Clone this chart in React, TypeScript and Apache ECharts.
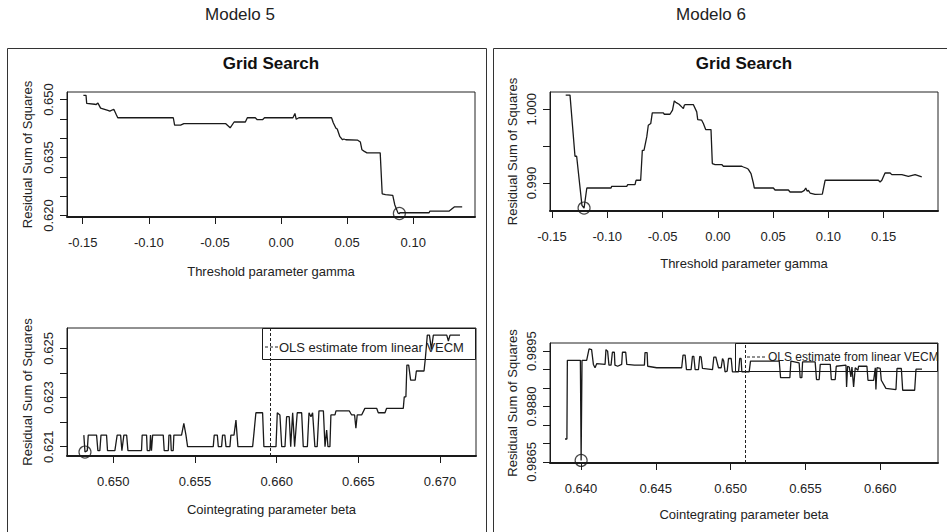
import React, { useEffect, useRef } from "react";
import * as echarts from "echarts";

const FONT = "'Liberation Sans', Arial, Helvetica, sans-serif";
const INK = "#1a1a1a";

// ---- texts ----
const panelTitles = ["Modelo 5", "Modelo 6"];
const plotTitle = "Grid Search";
const gammaAxisName = "Threshold parameter gamma";
const betaAxisName = "Cointegrating parameter beta";
const rssAxisName = "Residual Sum of Squares";
const legendText = "OLS estimate from linear VECM";

// ---- Modelo 5 : gamma grid search ----
const m5Gamma: [number, number][] = [
  [-0.1495, 0.6511], [-0.1475, 0.6511], [-0.1470, 0.6490], [-0.1410, 0.6488], [-0.1400, 0.6487],
  [-0.1385, 0.6491], [-0.1365, 0.6478], [-0.1310, 0.6472], [-0.1295, 0.6470], [-0.1265, 0.6475],
  [-0.1245, 0.6460], [-0.1235, 0.6453], [-0.0815, 0.6453], [-0.0805, 0.6434], [-0.0760, 0.6434],
  [-0.0735, 0.6438], [-0.0420, 0.6438], [-0.0385, 0.6427], [-0.0355, 0.6442], [-0.0270, 0.6442],
  [-0.0255, 0.6453], [-0.0195, 0.6453], [-0.0180, 0.6448], [-0.0140, 0.6448], [-0.0125, 0.6453],
  [0.0090, 0.6453], [0.0105, 0.6464], [0.0115, 0.6449], [0.0135, 0.6453], [0.0382, 0.6453],
  [0.0395, 0.6440], [0.0415, 0.6426], [0.0425, 0.6424], [0.0445, 0.6404], [0.0465, 0.6396],
  [0.0475, 0.6398], [0.0490, 0.6396], [0.0580, 0.6395], [0.0600, 0.6390], [0.0612, 0.6370],
  [0.0630, 0.6366], [0.0650, 0.6362], [0.0750, 0.6362], [0.0765, 0.6256], [0.0790, 0.6254],
  [0.0845, 0.6252], [0.0860, 0.6228], [0.0885, 0.6206], [0.0895, 0.6205], [0.0900, 0.6207],
  [0.1120, 0.6207], [0.1125, 0.6211], [0.1270, 0.6211], [0.1310, 0.6222], [0.1370, 0.6222],
];
const m5GammaMin: [number, number] = [0.0895, 0.6205];
const m5GammaXTicks = [-0.15, -0.1, -0.05, 0, 0.05, 0.1];
const m5GammaYTicks = [0.62, 0.625, 0.63, 0.635, 0.64, 0.645, 0.65];
const m5GammaYLabels = [0.62, 0.635, 0.65];

// ---- Modelo 5 : beta grid search ----
const m5Beta: [number, number][] = [
  [0.64820, 0.62147], [0.64827, 0.62078], [0.64841, 0.62084], [0.64847, 0.62147], [0.64898, 0.62147],
  [0.64906, 0.62084], [0.64918, 0.62084], [0.64925, 0.62147], [0.64959, 0.62147], [0.64965, 0.62084],
  [0.65010, 0.62084], [0.65024, 0.62147], [0.65045, 0.62147], [0.65053, 0.62084], [0.65065, 0.62147],
  [0.65082, 0.62147], [0.65090, 0.62084], [0.65173, 0.62084], [0.65177, 0.62147], [0.65204, 0.62147],
  [0.65208, 0.62084], [0.65224, 0.62084], [0.65228, 0.62147], [0.65234, 0.62084], [0.65241, 0.62147],
  [0.65306, 0.62147], [0.65312, 0.62084], [0.65337, 0.62084], [0.65341, 0.62147], [0.65351, 0.62147],
  [0.65355, 0.62084], [0.65367, 0.62084], [0.65371, 0.62147], [0.65418, 0.62147], [0.65432, 0.62195],
  [0.65445, 0.62147], [0.65455, 0.62100], [0.65612, 0.62100], [0.65618, 0.62147], [0.65637, 0.62147],
  [0.65643, 0.62100], [0.65663, 0.62100], [0.65669, 0.62147], [0.65683, 0.62147], [0.65690, 0.62100],
  [0.65714, 0.62100], [0.65720, 0.62147], [0.65739, 0.62147], [0.65751, 0.62208], [0.65763, 0.62100],
  [0.65853, 0.62100], [0.65861, 0.62154], [0.65873, 0.62238], [0.65914, 0.62238], [0.65922, 0.62100],
  [0.65996, 0.62100], [0.66004, 0.62238], [0.66020, 0.62229], [0.66031, 0.62100], [0.66051, 0.62100],
  [0.66061, 0.62222], [0.66077, 0.62222], [0.66086, 0.62100], [0.66098, 0.62238], [0.66110, 0.62100],
  [0.66126, 0.62238], [0.66153, 0.62238], [0.66163, 0.62100], [0.66188, 0.62100], [0.66198, 0.62238],
  [0.66210, 0.62222], [0.66220, 0.62238], [0.66234, 0.62100], [0.66248, 0.62100], [0.66259, 0.62246],
  [0.66286, 0.62246], [0.66296, 0.62100], [0.66306, 0.62168], [0.66314, 0.62100], [0.66326, 0.62100],
  [0.66332, 0.62229], [0.66357, 0.62229], [0.66363, 0.62246], [0.66444, 0.62246], [0.66459, 0.62229],
  [0.66477, 0.62229], [0.66485, 0.62175], [0.66493, 0.62229], [0.66520, 0.62229], [0.66540, 0.62256],
  [0.66612, 0.62256], [0.66622, 0.62238], [0.66663, 0.62238], [0.66673, 0.62256], [0.66775, 0.62256],
  [0.66781, 0.62303], [0.66791, 0.62303], [0.66797, 0.62432], [0.66808, 0.62432], [0.66820, 0.62371],
  [0.66848, 0.62371], [0.66855, 0.62408], [0.66902, 0.62408], [0.66910, 0.62459], [0.66922, 0.62554],
  [0.66935, 0.62554], [0.66947, 0.62496], [0.66959, 0.62554], [0.67041, 0.62554], [0.67051, 0.62530],
  [0.67061, 0.62554], [0.67122, 0.62554],
];
const m5BetaMin: [number, number] = [0.64827, 0.62078];
const m5Ols = 0.65963;
const m5BetaXTicks = [0.65, 0.655, 0.66, 0.665, 0.67];
const m5BetaYTicks = [0.621, 0.622, 0.623, 0.624, 0.625];
const m5BetaYLabels = [0.621, 0.623, 0.625];

// ---- Modelo 6 : gamma grid search ----
const m6Gamma: [number, number][] = [
  [-0.1376, 1.00192], [-0.1337, 1.00192], [-0.1292, 0.99363], [-0.1277, 0.99363], [-0.1229, 0.98697],
  [-0.1210, 0.98660], [-0.1185, 0.98932], [-0.0966, 0.98932], [-0.0960, 0.98955], [-0.0824, 0.98955],
  [-0.0815, 0.98978], [-0.0749, 0.98978], [-0.0740, 0.99037], [-0.0698, 0.99037], [-0.0683, 0.99444],
  [-0.0668, 0.99444], [-0.0643, 0.99625], [-0.0629, 0.99784], [-0.0607, 0.99807], [-0.0593, 0.99951],
  [-0.0493, 0.99951], [-0.0484, 0.99933], [-0.0433, 0.99933], [-0.0410, 0.99990], [-0.0394, 1.00114],
  [-0.0381, 1.00096], [-0.0372, 1.00087], [-0.0351, 1.00069], [-0.0342, 1.00056], [-0.0327, 1.00033],
  [-0.0312, 1.00011], [-0.0303, 1.00056], [-0.0291, 1.00065], [-0.0222, 1.00065], [-0.0191, 0.99965],
  [-0.0182, 0.99861], [-0.0146, 0.99852], [-0.0131, 0.99807], [-0.0110, 0.99725], [-0.0062, 0.99725],
  [-0.0050, 0.99264], [-0.0025, 0.99250], [0.0035, 0.99250], [0.0050, 0.99227], [0.0216, 0.99227],
  [0.0231, 0.99217], [0.0261, 0.99200], [0.0276, 0.99186], [0.0300, 0.99128], [0.0321, 0.99000],
  [0.0330, 0.98932], [0.0502, 0.98932], [0.0517, 0.98905], [0.0638, 0.98905], [0.0653, 0.98878],
  [0.0759, 0.98878], [0.0782, 0.98900], [0.0795, 0.98932], [0.0807, 0.98890], [0.0819, 0.98900],
  [0.0834, 0.98864], [0.0879, 0.98846], [0.0945, 0.98850], [0.0970, 0.99037], [0.0985, 0.99037],
  [0.1452, 0.99037], [0.1467, 0.99014], [0.1483, 0.99037], [0.1512, 0.99136], [0.1558, 0.99136],
  [0.1573, 0.99114], [0.1664, 0.99114], [0.1723, 0.99091], [0.1784, 0.99114], [0.1844, 0.99082],
];
const m6GammaMin: [number, number] = [-0.121, 0.9866];
const m6GammaXTicks = [-0.15, -0.1, -0.05, 0, 0.05, 0.1, 0.15];
const m6GammaYTicks = [0.99, 0.995, 1.0];
const m6GammaYLabels = [0.99, 1.0];

// ---- Modelo 6 : beta grid search ----
const m6Beta: [number, number][] = [
  [0.63893, 0.98712], [0.63906, 0.98712], [0.63909, 0.98925], [0.63996, 0.98925], [0.64001, 0.98654],
  [0.64007, 0.98925], [0.64038, 0.98925], [0.64054, 0.98956], [0.64071, 0.98954], [0.64083, 0.98914],
  [0.64094, 0.98905], [0.64105, 0.98916], [0.64161, 0.98914], [0.64167, 0.98954], [0.64178, 0.98950],
  [0.64187, 0.98912], [0.64201, 0.98912], [0.64210, 0.98947], [0.64223, 0.98947], [0.64227, 0.98912],
  [0.64245, 0.98909], [0.64272, 0.98914], [0.64277, 0.98947], [0.64299, 0.98947], [0.64306, 0.98914],
  [0.64357, 0.98912], [0.64424, 0.98912], [0.64428, 0.98946], [0.64442, 0.98946], [0.64446, 0.98909],
  [0.64506, 0.98905], [0.64673, 0.98905], [0.64682, 0.98939], [0.64696, 0.98939], [0.64705, 0.98900],
  [0.64736, 0.98900], [0.64745, 0.98936], [0.64754, 0.98936], [0.64763, 0.98900], [0.64785, 0.98900],
  [0.64794, 0.98936], [0.64803, 0.98934], [0.64812, 0.98903], [0.64879, 0.98900], [0.64888, 0.98934],
  [0.64901, 0.98934], [0.64919, 0.98905], [0.64937, 0.98905], [0.64946, 0.98930], [0.64954, 0.98923],
  [0.64963, 0.98894], [0.64977, 0.98896], [0.64986, 0.98930], [0.65004, 0.98930], [0.65012, 0.98894],
  [0.65053, 0.98894], [0.65061, 0.98930], [0.65070, 0.98930], [0.65075, 0.98894], [0.65124, 0.98894],
  [0.65133, 0.98923], [0.65325, 0.98923], [0.65334, 0.98878], [0.65396, 0.98878], [0.65403, 0.98923],
  [0.65458, 0.98918], [0.65465, 0.98878], [0.65476, 0.98878], [0.65481, 0.98921], [0.65565, 0.98921],
  [0.65574, 0.98873], [0.65592, 0.98873], [0.65599, 0.98914], [0.65666, 0.98914], [0.65673, 0.98873],
  [0.65699, 0.98873], [0.65706, 0.98909], [0.65771, 0.98912], [0.65775, 0.98853], [0.65782, 0.98909],
  [0.65793, 0.98907], [0.65804, 0.98880], [0.65811, 0.98907], [0.65822, 0.98853], [0.65833, 0.98905],
  [0.65851, 0.98898], [0.65855, 0.98909], [0.65911, 0.98909], [0.65918, 0.98871], [0.65956, 0.98871],
  [0.65967, 0.98905], [0.65971, 0.98846], [0.65978, 0.98905], [0.66000, 0.98903], [0.66007, 0.98871],
  [0.66038, 0.98849], [0.66105, 0.98846], [0.66112, 0.98903], [0.66141, 0.98903], [0.66150, 0.98844],
  [0.66230, 0.98844], [0.66239, 0.98901], [0.66279, 0.98901],
];
const m6BetaMin: [number, number] = [0.64001, 0.98654];
const m6Ols = 0.65097;
const m6BetaXTicks = [0.64, 0.645, 0.65, 0.655, 0.66];
const m6BetaYTicks = [0.9865, 0.987, 0.9875, 0.988, 0.9885, 0.989, 0.9895];
const m6BetaYLabels = [0.9865, 0.988, 0.9895];

const tickText = { color: "#222", fontSize: 13, fontFamily: FONT };

function makeX(gridIndex: number, min: number, max: number, ticks: number[], dec: number, name: string, nameGap: number) {
  return {
    type: "value", gridIndex, min, max,
    axisLine: { show: true, onZero: false, lineStyle: { color: INK, width: 2 } },
    axisTick: { show: true, length: 7, customValues: ticks, lineStyle: { color: INK, width: 1 } },
    axisLabel: { show: true, customValues: ticks, formatter: (v: number) => v.toFixed(dec), margin: 19, ...tickText },
    splitLine: { show: false },
    name, nameLocation: "middle", nameGap,
    nameTextStyle: { color: "#222", fontSize: 13, fontFamily: FONT },
  };
}

function makeY(gridIndex: number, min: number, max: number, ticks: number[], labels: number[], dec: number, nameGap: number) {
  return {
    type: "value", gridIndex, min, max,
    axisLine: { show: true, onZero: false, lineStyle: { color: INK, width: 1 } },
    axisTick: { show: true, length: 7, customValues: ticks, lineStyle: { color: INK, width: 1 } },
    axisLabel: { show: true, customValues: labels, rotate: 90, formatter: (v: number) => v.toFixed(dec), margin: 12, ...tickText },
    splitLine: { show: false },
    name: rssAxisName, nameLocation: "middle", nameGap,
    nameTextStyle: { color: "#222", fontSize: 13, fontFamily: FONT },
  };
}

function curve(idx: number, data: [number, number][], ols?: number) {
  const s: any = {
    type: "line", xAxisIndex: idx, yAxisIndex: idx, data, showSymbol: false, symbol: "none",
    lineStyle: { color: INK, width: 1.3 }, silent: true, z: 3,
  };
  if (ols !== undefined) {
    s.markLine = {
      silent: true, symbol: "none", precision: 6, label: { show: false },
      lineStyle: { type: [3, 2], color: "#222", width: 1 },
      data: [{ xAxis: ols }],
    };
  }
  return s;
}

function minMark(idx: number, p: [number, number]) {
  return {
    type: "scatter", xAxisIndex: idx, yAxisIndex: idx, data: [p], symbol: "circle", symbolSize: 12,
    itemStyle: { color: "rgba(0,0,0,0)", borderColor: INK, borderWidth: 1.2 }, silent: true, z: 4,
  };
}

const gridBase = { show: true, borderColor: "#222", borderWidth: 1, backgroundColor: "transparent", containLabel: false, outerBoundsMode: "none" };

export default function App() {
  const ref = useRef<HTMLDivElement>(null);
  useEffect(() => {
    if (!ref.current) return;
    const chart = echarts.init(ref.current, undefined, { renderer: "svg" });
    const option: any = {
      animation: false,
      backgroundColor: "#fff",
      grid: [
        { ...gridBase, left: 67, top: 92, width: 408, height: 125 },
        { ...gridBase, left: 67, top: 328, width: 409, height: 128 },
        { ...gridBase, left: 550, top: 92, width: 388, height: 119 },
        { ...gridBase, left: 550, top: 343, width: 388, height: 120 },
      ],
      xAxis: [
        makeX(0, -0.1619, 0.1467, m5GammaXTicks, 2, gammaAxisName, 48),
        makeX(1, 0.64717, 0.6722, m5BetaXTicks, 3, betaAxisName, 47),
        makeX(2, -0.1518, 0.1991, m6GammaXTicks, 2, gammaAxisName, 46),
        makeX(3, 0.63793, 0.66386, m6BetaXTicks, 3, betaAxisName, 45),
      ],
      yAxis: [
        makeY(0, 0.6196, 0.65197, m5GammaYTicks, m5GammaYLabels, 3, 33),
        makeY(1, 0.62062, 0.62583, m5BetaYTicks, m5BetaYLabels, 3, 33),
        makeY(2, 0.9862, 1.00235, m6GammaYTicks, m6GammaYLabels, 3, 31),
        makeY(3, 0.98647, 0.98972, m6BetaYTicks, m6BetaYLabels, 4, 31),
      ],
      series: [
        curve(0, m5Gamma), minMark(0, m5GammaMin),
        curve(1, m5Beta, m5Ols), minMark(1, m5BetaMin),
        curve(2, m6Gamma), minMark(2, m6GammaMin),
        curve(3, m6Beta, m6Ols), minMark(3, m6BetaMin),
      ],
      graphic: [
        { type: "rect", shape: { x: 7.5, y: 48.5, width: 479, height: 520 }, style: { fill: "none", stroke: "#333", lineWidth: 1 }, silent: true },
        { type: "rect", shape: { x: 493.5, y: 48.5, width: 480, height: 520 }, style: { fill: "none", stroke: "#333", lineWidth: 1 }, silent: true },
        { type: "text", x: 240, y: 14, style: { text: panelTitles[0], fontSize: 17, fontFamily: FONT, fill: "#222", textAlign: "center", textVerticalAlign: "middle" } },
        { type: "text", x: 711, y: 14, style: { text: panelTitles[1], fontSize: 17, fontFamily: FONT, fill: "#222", textAlign: "center", textVerticalAlign: "middle" } },
        { type: "text", x: 271, y: 63, style: { text: plotTitle, fontSize: 17, fontWeight: "bold", fontFamily: FONT, fill: "#111", textAlign: "center", textVerticalAlign: "middle" } },
        { type: "text", x: 744, y: 63, style: { text: plotTitle, fontSize: 17, fontWeight: "bold", fontFamily: FONT, fill: "#111", textAlign: "center", textVerticalAlign: "middle" } },
        // legend Modelo 5
        { type: "rect", shape: { x: 262.5, y: 328.5, width: 213, height: 31 }, style: { fill: "none", stroke: INK, lineWidth: 1 }, silent: true },
        { type: "line", shape: { x1: 265, y1: 347, x2: 278, y2: 347 }, style: { stroke: "#222", lineWidth: 1, lineDash: [3, 2] }, silent: true },
        { type: "text", x: 279, y: 347, style: { text: legendText, fontSize: 13, fontFamily: FONT, fill: "#222", textAlign: "left", textVerticalAlign: "middle" } },
        // legend Modelo 6
        { type: "rect", shape: { x: 735.5, y: 343.5, width: 202, height: 28 }, style: { fill: "none", stroke: INK, lineWidth: 1 }, silent: true },
        { type: "line", shape: { x1: 747, y1: 357, x2: 767, y2: 357 }, style: { stroke: "#222", lineWidth: 1, lineDash: [3, 2] }, silent: true },
        { type: "text", x: 768, y: 357, style: { text: legendText, fontSize: 12, fontFamily: FONT, fill: "#222", textAlign: "left", textVerticalAlign: "middle" } },
      ],
    };
    chart.setOption(option);
    return () => chart.dispose();
  }, []);
  return <div ref={ref} style={{ position: "fixed", left: 0, top: 0, width: 947, height: 532 }} />;
}
